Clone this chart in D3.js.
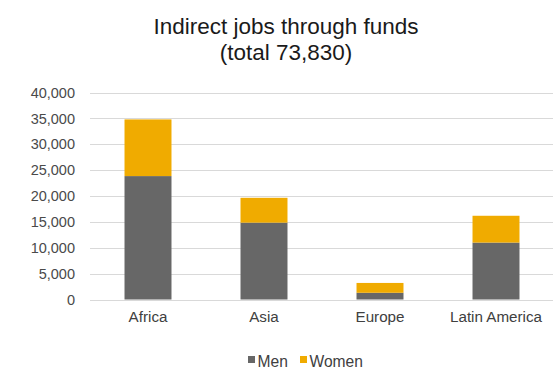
<!DOCTYPE html>
<html>
<head>
<meta charset="utf-8">
<script src="https://cdn.jsdelivr.net/npm/d3@7"></script>
<style>
  html, body { margin: 0; padding: 0; background: #fff; }
  svg { display: block; font-family: "Liberation Sans", Arial, sans-serif; }
</style>
</head>
<body>
<svg id="chart" width="553" height="370"></svg>
<script>
// Indirect jobs through funds, by region, split by gender
const regions = ["Africa", "Asia", "Europe", "Latin America"];
const men = [23850, 14850, 1300, 11000];
const women = [10950, 4800, 1900, 5180];
const seriesNames = ["Men", "Women"];
const seriesColors = ["#676767", "#F0AB00"];
const yTicks = [0, 5000, 10000, 15000, 20000, 25000, 30000, 35000, 40000];
const titleLines = ["Indirect jobs through funds", "(total 73,830)"];

const svg = d3.select("#chart");
const W = 553, H = 370;
const plot = { left: 90, right: 554, top: 92.5, bottom: 299.5 };

const rows = regions.map((r, i) => ({ region: r, Men: men[i], Women: women[i] }));
const stacked = d3.stack().keys(seriesNames)(rows);

const x = d3.scaleBand()
  .domain(regions)
  .range([plot.left, plot.right])
  .paddingInner(0.595)
  .paddingOuter(0.2975);

const y = d3.scaleLinear()
  .domain([0, 40000])
  .range([plot.bottom, plot.top]);

const fmt = d3.format(",");

// gridlines
svg.append("g")
  .selectAll("line")
  .data(yTicks)
  .join("line")
  .attr("x1", plot.left)
  .attr("x2", W)
  .attr("y1", d => Math.round(y(d)) + 0.5)
  .attr("y2", d => Math.round(y(d)) + 0.5)
  .attr("stroke", "#d9d9d9")
  .attr("stroke-width", 1.2);

// y-axis labels
const yAxis = d3.axisLeft(y).tickValues(yTicks).tickFormat(fmt).tickSize(0).tickPadding(0);
const gy = svg.append("g")
  .attr("transform", `translate(75,0)`)
  .call(yAxis);
gy.select(".domain").remove();
gy.selectAll("text")
  .attr("fill", "#4a4a4a")
  .style("font-size", "14.5px")
  .style("font-family", "'Liberation Sans', Arial, sans-serif");

// stacked bars
svg.append("g")
  .selectAll("g")
  .data(stacked)
  .join("g")
  .attr("fill", (d, i) => seriesColors[i])
  .selectAll("rect")
  .data(d => d)
  .join("rect")
  .attr("x", d => x(d.data.region))
  .attr("width", x.bandwidth())
  .attr("y", d => y(d[1]))
  .attr("height", d => y(d[0]) - y(d[1]));

// category labels
const xAxis = d3.axisBottom(x).tickSize(0).tickPadding(0);
const gx = svg.append("g")
  .attr("transform", `translate(0,${plot.bottom + 12})`)
  .call(xAxis);
gx.select(".domain").remove();
gx.selectAll("text")
  .attr("fill", "#404040")
  .attr("dy", "0.71em")
  .style("font-size", "15.2px")
  .style("font-family", "'Liberation Sans', Arial, sans-serif");

// title
svg.append("text")
  .attr("x", 286)
  .attr("y", 33.5)
  .attr("text-anchor", "middle")
  .attr("fill", "#1a1a1a")
  .style("font-size", "22.5px")
  .selectAll("tspan")
  .data(titleLines)
  .join("tspan")
  .attr("x", 286)
  .attr("dy", (d, i) => i === 0 ? 0 : 26.2)
  .text(d => d);

// legend
const legendItems = [
  { name: seriesNames[0], color: seriesColors[0], x: 248 },
  { name: seriesNames[1], color: seriesColors[1], x: 300 }
];
const lg = svg.append("g").selectAll("g").data(legendItems).join("g")
  .attr("transform", d => `translate(${d.x},0)`);
lg.append("rect")
  .attr("x", 0).attr("y", 356)
  .attr("width", 7).attr("height", 7)
  .attr("fill", d => d.color);
lg.append("text")
  .attr("x", 9.5).attr("y", 367)
  .attr("fill", "#404040")
  .style("font-size", "15.6px")
  .text(d => d.name);
</script>
</body>
</html>
